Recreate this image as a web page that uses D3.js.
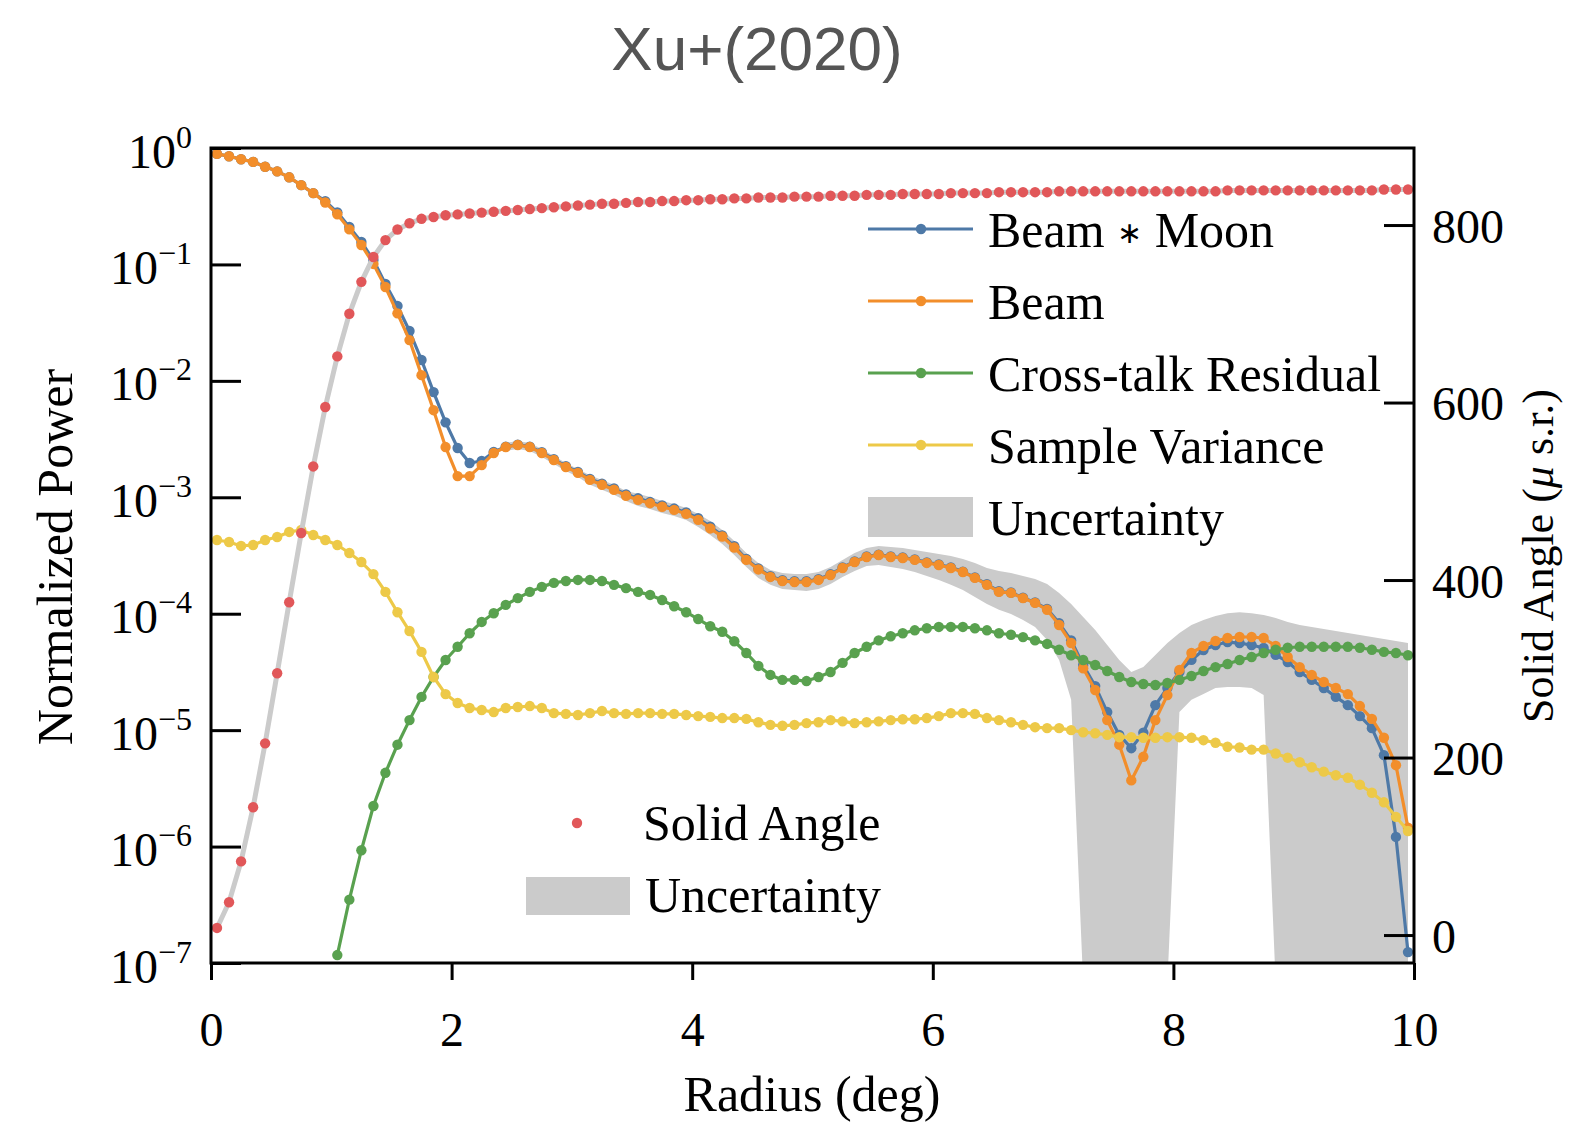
<!DOCTYPE html>
<html><head><meta charset="utf-8">
<script src="https://cdn.jsdelivr.net/npm/d3@7"></script>
<style>body{margin:0;background:#fff} svg{display:block}</style>
</head><body>
<svg id="chart" width="1569" height="1122"></svg>
<script>
// ---------------- data ----------------
const radius = [
0.05,0.15,0.25,0.35,0.45,0.55,0.65,0.75,0.85,0.95,
1.05,1.15,1.25,1.35,1.45,1.55,1.65,1.75,1.85,1.95,
2.05,2.15,2.25,2.35,2.45,2.55,2.65,2.75,2.85,2.95,
3.05,3.15,3.25,3.35,3.45,3.55,3.65,3.75,3.85,3.95,
4.05,4.15,4.25,4.35,4.45,4.55,4.65,4.75,4.85,4.95,
5.05,5.15,5.25,5.35,5.45,5.55,5.65,5.75,5.85,5.95,
6.05,6.15,6.25,6.35,6.45,6.55,6.65,6.75,6.85,6.95,
7.05,7.15,7.25,7.35,7.45,7.55,7.65,7.75,7.85,7.95,
8.05,8.15,8.25,8.35,8.45,8.55,8.65,8.75,8.85,8.95,
9.05,9.15,9.25,9.35,9.45,9.55,9.65,9.75,9.85,9.95];

const beamMoon = [
0.89,0.85,0.80,0.76,0.69,0.63,0.56,0.48,0.41,0.35,
0.28,0.21,0.156,0.109,0.068,0.044,0.0268,0.0151,0.0080,0.0044,
2.65e-3,1.97e-3,2.05e-3,2.45e-3,2.72e-3,2.83e-3,2.72e-3,2.44e-3,2.12e-3,1.85e-3,
1.65e-3,1.44e-3,1.31e-3,1.19e-3,1.06e-3,9.8e-4,9.1e-4,8.5e-4,8.0e-4,7.4e-4,
6.6e-4,5.6e-4,4.7e-4,3.8e-4,2.95e-4,2.45e-4,2.1e-4,1.94e-4,1.9e-4,1.9e-4,
1.98e-4,2.18e-4,2.5e-4,2.81e-4,3.1e-4,3.22e-4,3.1e-4,3.04e-4,2.93e-4,2.76e-4,
2.65e-4,2.5e-4,2.3e-4,2.05e-4,1.79e-4,1.56e-4,1.52e-4,1.37e-4,1.25e-4,1.1e-4,
8.3e-5,5.9e-5,3.63e-5,2.39e-5,1.43e-5,9.1e-6,7.0e-6,9.5e-6,1.64e-5,2.3e-5,
3.16e-5,4.01e-5,4.88e-5,5.38e-5,5.71e-5,5.6e-5,5.38e-5,5.08e-5,4.43e-5,3.85e-5,
3.16e-5,2.7e-5,2.3e-5,1.93e-5,1.64e-5,1.32e-5,1.04e-5,6.1e-6,1.21e-6,1.24e-7];

const beam = [
0.89,0.85,0.80,0.76,0.69,0.63,0.56,0.48,0.41,0.34,
0.27,0.20,0.147,0.101,0.064,0.038,0.0224,0.0112,0.0056,0.0027,
1.52e-3,1.52e-3,1.89e-3,2.4e-3,2.7e-3,2.81e-3,2.7e-3,2.4e-3,2.09e-3,1.82e-3,
1.62e-3,1.41e-3,1.28e-3,1.16e-3,1.03e-3,9.5e-4,8.9e-4,8.3e-4,7.8e-4,7.2e-4,
6.4e-4,5.4e-4,4.6e-4,3.7e-4,2.9e-4,2.4e-4,2.07e-4,1.91e-4,1.87e-4,1.87e-4,
1.95e-4,2.15e-4,2.47e-4,2.78e-4,3.07e-4,3.19e-4,3.07e-4,3.01e-4,2.9e-4,2.73e-4,
2.62e-4,2.47e-4,2.28e-4,2.03e-4,1.77e-4,1.54e-4,1.51e-4,1.36e-4,1.24e-4,1.08e-4,
8.0e-5,5.6e-5,3.4e-5,2.21e-5,1.22e-5,7.5e-6,3.7e-6,5.9e-6,1.22e-5,2.0e-5,
3.29e-5,4.6e-5,5.28e-5,5.83e-5,6.18e-5,6.31e-5,6.31e-5,6.18e-5,5.28e-5,4.25e-5,
3.48e-5,2.98e-5,2.59e-5,2.3e-5,2.04e-5,1.61e-5,1.25e-5,8.6e-6,5.0e-6,1.45e-6];

const crossTalk = [
null,null,null,null,null,null,null,null,null,null,
1.17e-7,3.5e-7,9.3e-7,2.23e-6,4.3e-6,7.5e-6,1.22e-5,1.93e-5,2.86e-5,4.0e-5,
5.2e-5,6.8e-5,8.5e-5,1.01e-4,1.19e-4,1.36e-4,1.54e-4,1.70e-4,1.84e-4,1.91e-4,
1.95e-4,1.95e-4,1.91e-4,1.77e-4,1.66e-4,1.54e-4,1.45e-4,1.31e-4,1.16e-4,1.03e-4,
9.0e-5,7.8e-5,7.0e-5,5.8e-5,4.6e-5,3.56e-5,2.98e-5,2.7e-5,2.7e-5,2.64e-5,
2.86e-5,3.16e-5,3.78e-5,4.6e-5,5.2e-5,5.9e-5,6.4e-5,6.8e-5,7.2e-5,7.5e-5,
7.7e-5,7.7e-5,7.7e-5,7.5e-5,7.2e-5,6.8e-5,6.6e-5,6.3e-5,5.9e-5,5.5e-5,
4.9e-5,4.4e-5,4.0e-5,3.63e-5,3.22e-5,2.86e-5,2.59e-5,2.49e-5,2.44e-5,2.54e-5,
2.7e-5,2.92e-5,3.22e-5,3.48e-5,3.7e-5,4.0e-5,4.25e-5,4.6e-5,4.9e-5,5.1e-5,
5.2e-5,5.2e-5,5.2e-5,5.2e-5,5.2e-5,5.1e-5,4.9e-5,4.7e-5,4.6e-5,4.4e-5];

const sampleVariance = [
4.3e-4,4.13e-4,3.82e-4,3.89e-4,4.3e-4,4.56e-4,5.04e-4,5.24e-4,4.74e-4,4.3e-4,
3.89e-4,3.32e-4,2.78e-4,2.19e-4,1.54e-4,1.03e-4,7.1e-5,4.7e-5,2.86e-5,2.04e-5,
1.71e-5,1.55e-5,1.49e-5,1.43e-5,1.55e-5,1.58e-5,1.61e-5,1.55e-5,1.40e-5,1.38e-5,
1.35e-5,1.40e-5,1.46e-5,1.40e-5,1.38e-5,1.40e-5,1.40e-5,1.38e-5,1.38e-5,1.35e-5,
1.32e-5,1.30e-5,1.27e-5,1.27e-5,1.25e-5,1.17e-5,1.11e-5,1.09e-5,1.11e-5,1.15e-5,
1.17e-5,1.22e-5,1.19e-5,1.15e-5,1.17e-5,1.19e-5,1.22e-5,1.24e-5,1.24e-5,1.27e-5,
1.32e-5,1.40e-5,1.40e-5,1.38e-5,1.27e-5,1.22e-5,1.17e-5,1.11e-5,1.06e-5,1.04e-5,
1.04e-5,1.0e-5,9.6e-6,9.4e-6,9.1e-6,8.7e-6,8.7e-6,8.6e-6,8.6e-6,8.7e-6,
8.7e-6,8.6e-6,8.2e-6,7.8e-6,7.2e-6,7.1e-6,6.8e-6,6.8e-6,6.3e-6,5.8e-6,
5.3e-6,4.8e-6,4.4e-6,4.1e-6,3.9e-6,3.4e-6,2.9e-6,2.4e-6,1.8e-6,1.36e-6];

// uncertainty band of Beam * Moon (0 = lower bound not positive)
const uncHigh = [
null,null,null,null,null,null,null,null,null,null,
null,null,null,null,null,null,null,null,null,null,
null,null,null,null,2.93e-3,3.04e-3,2.93e-3,2.6e-3,2.26e-3,1.97e-3,
1.75e-3,1.55e-3,1.41e-3,1.28e-3,1.13e-3,1.07e-3,1.006e-3,9.3e-4,8.75e-4,8.1e-4,
7.19e-4,6.26e-4,5.24e-4,4.21e-4,3.32e-4,2.73e-4,2.37e-4,2.24e-4,2.19e-4,2.19e-4,
2.28e-4,2.52e-4,2.89e-4,3.32e-4,3.67e-4,3.82e-4,3.74e-4,3.67e-4,3.52e-4,3.39e-4,
3.26e-4,3.13e-4,2.95e-4,2.73e-4,2.47e-4,2.33e-4,2.24e-4,2.11e-4,1.99e-4,1.80e-4,
1.51e-4,1.21e-4,9.37e-5,7.24e-5,5.38e-5,4.0e-5,3.16e-5,3.49e-5,4.42e-5,5.6e-5,
6.83e-5,8.0e-5,8.83e-5,9.56e-5,1.01e-4,1.03e-4,1.01e-4,9.75e-5,9.19e-5,8.49e-5,
8.0e-5,7.69e-5,7.39e-5,7.1e-5,6.83e-5,6.57e-5,6.31e-5,6.07e-5,5.83e-5,5.6e-5];

const uncLow = [
null,null,null,null,null,null,null,null,null,null,
null,null,null,null,null,null,null,null,null,null,
null,null,null,null,2.5e-3,2.6e-3,2.5e-3,2.22e-3,1.93e-3,1.68e-3,
1.49e-3,1.28e-3,1.16e-3,1.05e-3,9.3e-4,8.4e-4,7.93e-4,7.33e-4,6.9e-4,6.38e-4,
5.56e-4,4.74e-4,3.97e-4,3.19e-4,2.52e-4,2.03e-4,1.77e-4,1.63e-4,1.60e-4,1.57e-4,
1.63e-4,1.80e-4,2.07e-4,2.33e-4,2.57e-4,2.62e-4,2.52e-4,2.42e-4,2.28e-4,2.11e-4,
1.95e-4,1.77e-4,1.60e-4,1.39e-4,1.21e-4,1.08e-4,9.94e-5,8.83e-5,7.69e-5,5.95e-5,
4.0e-5,1.82e-5,0,0,0,0,0,0,0,0,
1.43e-5,1.82e-5,2.04e-5,2.30e-5,2.35e-5,2.35e-5,2.30e-5,2.0e-5,0,0,
0,0,0,0,0,0,0,0,0,0];

// solid angle (micro steradian), right axis
const solidAngle = [
8,37,83,144,216,295,375,453,528,595,
652,700,736,764,783,795,802,807,809,811,
812,813,814,815,816,817,818,819,820,821,
822,823,824,824,825,826,826,827,827,828,
828,829,829,830,830,831,831,831,832,832,
832,833,833,833,834,834,834,835,835,835,
835,836,836,836,836,837,837,837,837,837,
838,838,838,838,838,838,838,838,838,838,
838,838,838,838,839,839,839,839,839,839,
839,839,839,839,839,839,839,840,840,840];

const seriesNames = [["Beam ","\u2217"," Moon"],["Beam"],["Cross-talk Residual"],["Sample Variance"]];
const seriesColors = ["#4e79a7","#f28e2b","#59a14f","#edc948"];
const solidColor = "#e15759";
const bandColor = "#cbcbcb";

const xTicks = [0,2,4,6,8,10];
const powerTicks = [1e-7,1e-6,1e-5,1e-4,1e-3,1e-2,1e-1,1];
const solidTicks = [0,200,400,600,800];

const title = "Xu+(2020)";
const xLabel = "Radius (deg)";
const yLabel = "Normalized Power";
const y2Label = "Solid Angle (";
// ---------------- drawing ----------------
const svg = d3.select("#chart");
const M = {l:211, r:1414, t:148, b:963};
const serif = "'Liberation Serif','Times New Roman',Times,serif";
const MR = 5.2;

const x = d3.scaleLinear().domain([0,10]).range([M.l,M.r]);
const yL = d3.scaleLog().domain([1e-7,1]).range([M.b,M.t]);
const yR = d3.scaleLinear().domain([-31.5,886.8]).range([M.b,M.t]);

svg.append("defs").append("clipPath").attr("id","plotclip")
  .append("rect").attr("x",M.l).attr("y",M.t).attr("width",M.r-M.l).attr("height",M.b-M.t);

const plot = svg.append("g").attr("clip-path","url(#plotclip)");

// uncertainty band
const bandData = radius.map((r,i)=>({r, hi:uncHigh[i], lo:uncLow[i]}));
plot.append("path").datum(bandData)
  .attr("fill",bandColor)
  .attr("d", d3.area()
     .defined(d=>d.hi!=null)
     .x(d=>x(d.r))
     .y0(d=> d.lo>0 ? yL(d.lo) : M.b+20)
     .y1(d=>yL(d.hi)));

const seriesVals = [beamMoon, beam, crossTalk, sampleVariance];
seriesVals.forEach((vals,k)=>{
  const pts = radius.map((r,i)=>({r, v:vals[i]})).filter(d=>d.v!=null && d.v>0);
  plot.append("path").datum(pts)
    .attr("fill","none").attr("stroke",seriesColors[k]).attr("stroke-width",3.2)
    .attr("stroke-linejoin","round")
    .attr("d", d3.line().x(d=>x(d.r)).y(d=>yL(d.v)));
  plot.append("g").selectAll("circle").data(pts).join("circle")
    .attr("cx",d=>x(d.r)).attr("cy",d=>yL(d.v)).attr("r",MR)
    .attr("fill",seriesColors[k]);
});

// solid angle (twin axis)
const saPts = radius.map((r,i)=>({r, v:solidAngle[i]}));
plot.append("path").datum(saPts)
  .attr("fill","none").attr("stroke",bandColor).attr("stroke-width",5)
  .attr("d", d3.line().x(d=>x(d.r)).y(d=>yR(d.v)));
plot.append("g").selectAll("circle").data(saPts).join("circle")
  .attr("cx",d=>x(d.r)).attr("cy",d=>yR(d.v)).attr("r",MR).attr("fill",solidColor);

// frame
svg.append("rect").attr("x",M.l).attr("y",M.t).attr("width",M.r-M.l).attr("height",M.b-M.t)
  .attr("fill","none").attr("stroke","#000").attr("stroke-width",3);

// left axis
const gL = svg.append("g").attr("transform",`translate(${M.l},0)`)
  .call(d3.axisLeft(yL).tickValues(powerTicks).tickSize(-30).tickPadding(19).tickFormat(()=>""));
gL.select(".domain").remove();
gL.selectAll(".tick line").attr("stroke","#000").attr("stroke-width",3);
gL.selectAll(".tick text").each(function(d){
  const t = d3.select(this);
  const e = Math.round(Math.log10(d));
  t.attr("font-family",serif).attr("font-size",48).attr("fill","#000").attr("dy",null).attr("y",19);
  t.append("tspan").text("10");
  t.append("tspan").attr("dy",-20).attr("font-size",32).text(e===0?"0":"\u2212"+Math.abs(e));
});

// right axis
const gR = svg.append("g").attr("transform",`translate(${M.r},0)`)
  .call(d3.axisRight(yR).tickValues(solidTicks).tickSize(-30).tickPadding(18));
gR.select(".domain").remove();
gR.selectAll(".tick line").attr("stroke","#000").attr("stroke-width",3);
gR.selectAll(".tick text").attr("font-family",serif).attr("font-size",48).attr("fill","#000")
  .attr("dy",null).attr("y",17);

// bottom axis
const gB = svg.append("g").attr("transform",`translate(0,${M.b})`)
  .call(d3.axisBottom(x).tickValues(xTicks).tickSize(17).tickFormat(d3.format("d")));
gB.select(".domain").remove();
gB.selectAll(".tick line").attr("stroke","#000").attr("stroke-width",3);
gB.selectAll(".tick text").attr("font-family",serif).attr("font-size",48).attr("fill","#000")
  .attr("dy",null).attr("y",83);

// axis labels
svg.append("text").attr("transform","translate(72,557) rotate(-90)")
  .attr("text-anchor","middle").attr("font-family",serif).attr("font-size",50).text(yLabel);
svg.append("text").attr("x",812).attr("y",1111)
  .attr("text-anchor","middle").attr("font-family",serif).attr("font-size",50).text(xLabel);
const y2 = svg.append("text").attr("transform","translate(1553,556) rotate(-90)")
  .attr("text-anchor","middle").attr("font-family",serif).attr("font-size",44);
y2.append("tspan").text(y2Label);
y2.append("tspan").attr("font-style","italic").text("\u03bc");
y2.append("tspan").text(" s.r.)");

// title
svg.append("text").attr("x",757).attr("y",70).attr("text-anchor","middle")
  .attr("font-family","'Liberation Sans',Arial,Helvetica,sans-serif").attr("font-size",62)
  .attr("fill","#555").text(title);

// upper legend
const leg = svg.append("g");
seriesNames.forEach((parts,k)=>{
  const yy = 229 + k*72;
  leg.append("line").attr("x1",868).attr("x2",973).attr("y1",yy).attr("y2",yy)
    .attr("stroke",seriesColors[k]).attr("stroke-width",3.2);
  leg.append("circle").attr("cx",921).attr("cy",yy).attr("r",MR).attr("fill",seriesColors[k]);
  const t = leg.append("text").attr("x",988).attr("y",yy+18).attr("font-family",serif).attr("font-size",50);
  parts.forEach((p,j)=>{
    const s = t.append("tspan").text(p);
    if (p === "\u2217") s.attr("font-size",30).attr("dy",-4);
    if (j>0 && parts[j-1] === "\u2217") s.attr("dy",4);
  });
});
leg.append("rect").attr("x",868).attr("y",497).attr("width",105).attr("height",40).attr("fill",bandColor);
leg.append("text").attr("x",988).attr("y",535).attr("font-family",serif).attr("font-size",50).text("Uncertainty");

// lower legend (solid angle)
leg.append("circle").attr("cx",577).attr("cy",823).attr("r",MR).attr("fill",solidColor);
leg.append("text").attr("x",643).attr("y",840).attr("font-family",serif).attr("font-size",50).text("Solid Angle");
leg.append("rect").attr("x",526).attr("y",877).attr("width",104).attr("height",38).attr("fill",bandColor);
leg.append("text").attr("x",645).attr("y",912).attr("font-family",serif).attr("font-size",50).text("Uncertainty");
</script>
</body></html>
